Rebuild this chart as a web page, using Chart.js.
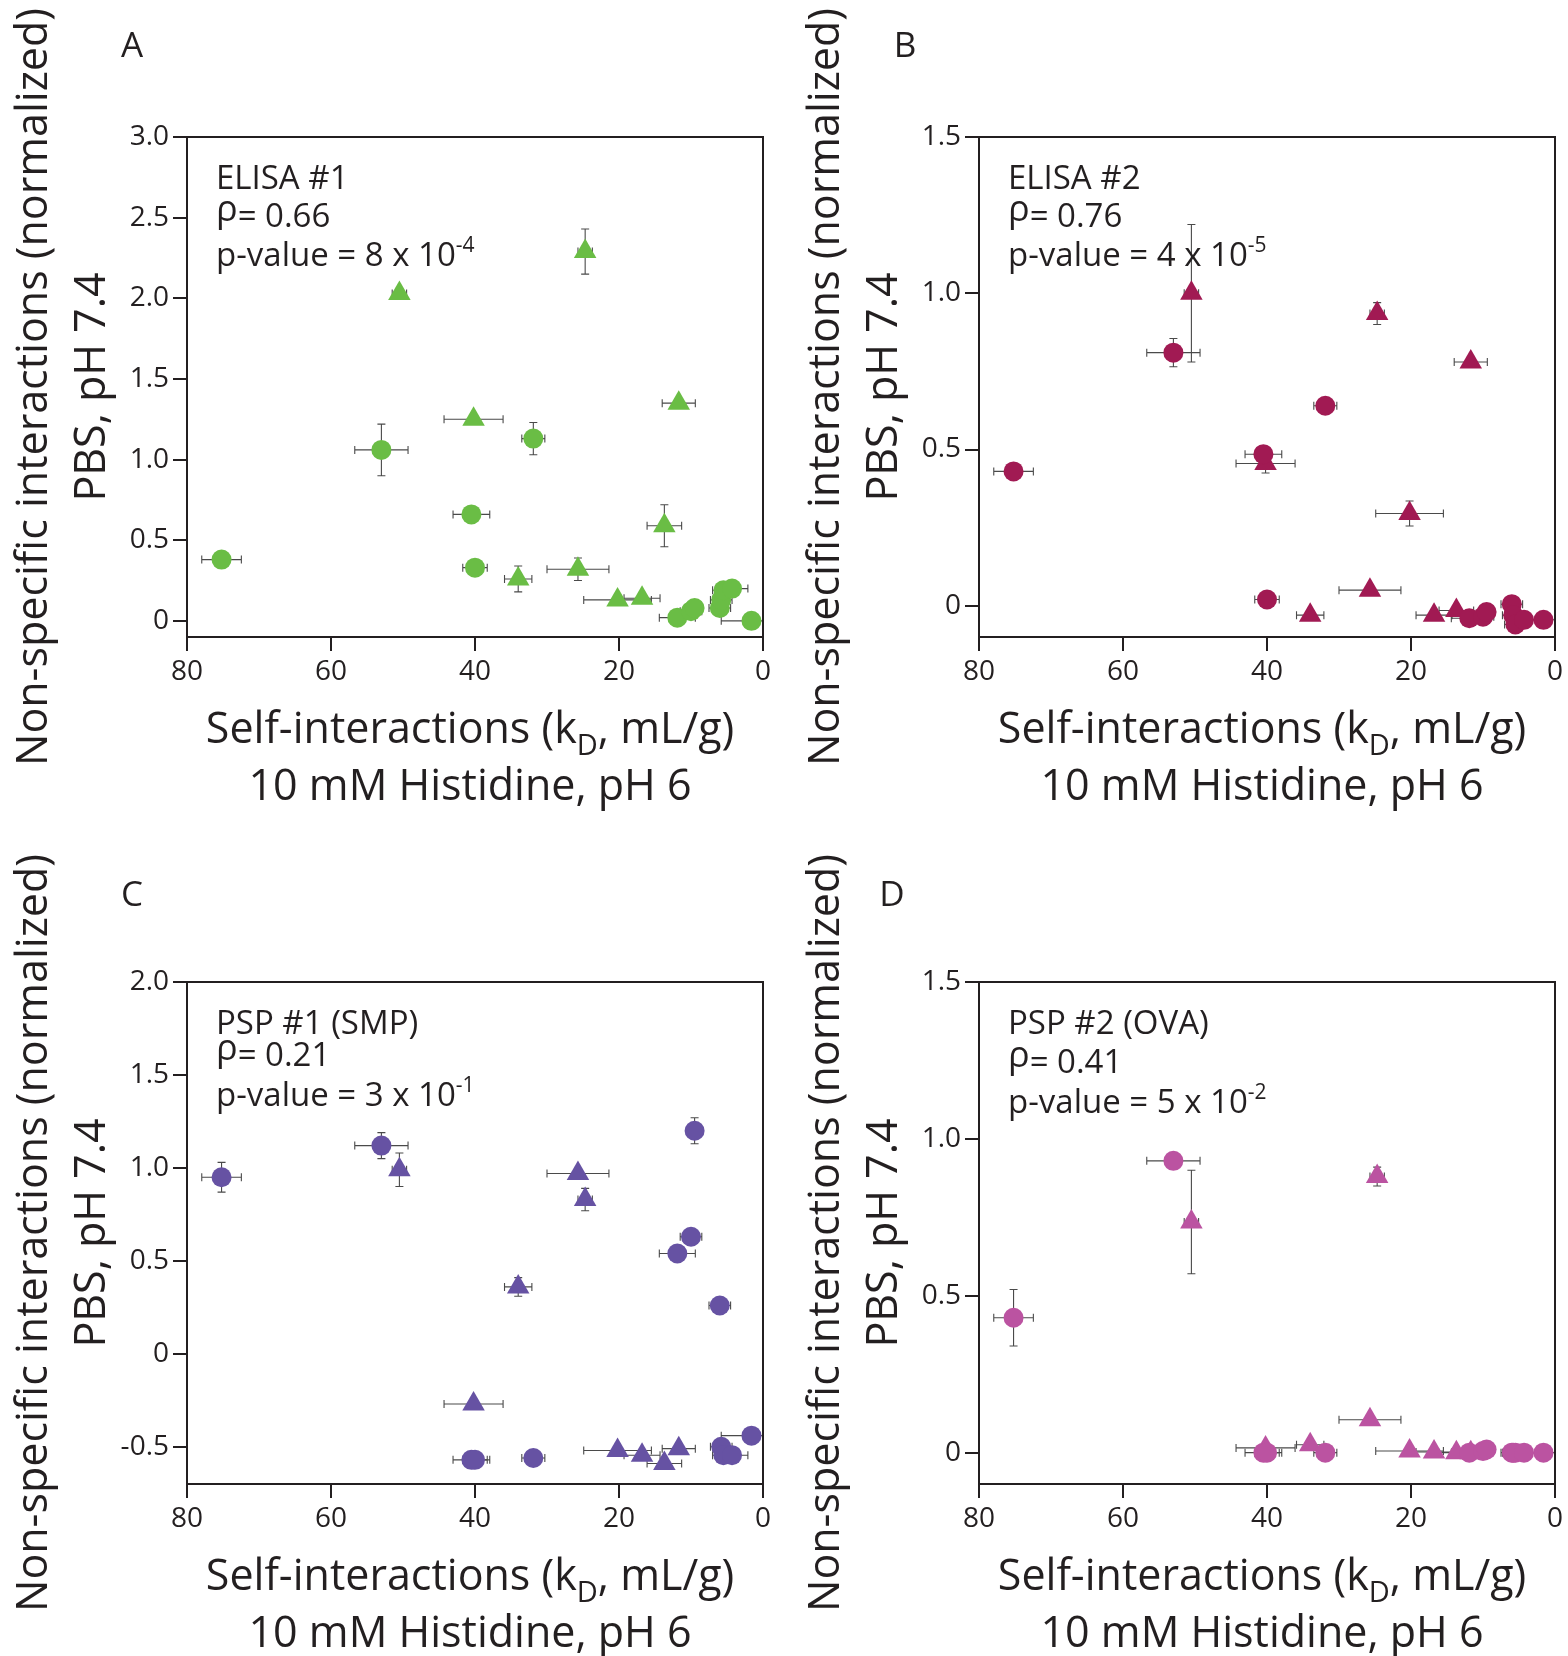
<!DOCTYPE html>
<html>
<head>
<meta charset="utf-8">
<script src="https://cdn.jsdelivr.net/npm/chart.js@4.4.0/dist/chart.umd.min.js"></script>
<style>
  body { margin: 0; background: #fff; }
  #wrap { position: relative; width: 1568px; height: 1656px; }
  .panel { position: absolute; width: 784px; height: 828px; }
</style>
</head>
<body>
<div id="wrap">
  <div class="panel" style="left:0;top:0"><canvas id="chartA" width="784" height="828"></canvas></div>
  <div class="panel" style="left:784px;top:0"><canvas id="chartB" width="784" height="828"></canvas></div>
  <div class="panel" style="left:0;top:828px"><canvas id="chartC" width="784" height="828"></canvas></div>
  <div class="panel" style="left:784px;top:828px"><canvas id="chartD" width="784" height="828"></canvas></div>
</div>
<script>
// kD (self-interactions) is the same set of antibodies in every panel
const circleKd      = [75.2, 53.0, 40.5, 40.0, 31.9, 11.9, 10.0, 9.5, 6.0, 5.8, 5.5, 4.3, 1.6];
const circleKdErr   = [2.75, 3.7, 2.55, 1.7, 1.6, 2.5, 1.5, 1.0, 1.5, 1.5, 1.5, 2.2, 4.2];
const triangleKd    = [50.5, 24.7, 11.7, 40.2, 13.7, 25.7, 34.0, 20.2, 16.8];
const triangleKdErr = [1.0, 1.0, 2.3, 4.1, 2.4, 4.3, 1.9, 4.7, 2.5];

// non-specific interactions, one pair of arrays per assay
const elisa1Circles    = [0.38, 1.06, 0.66, 0.33, 1.13, 0.02, 0.06, 0.08, 0.08, 0.13, 0.19, 0.20, 0.0];
const elisa1CirclesErr = [0, 0.16, 0, 0, 0.10, 0, 0, 0, 0, 0, 0, 0, 0];
const elisa1Tri        = [2.03, 2.29, 1.35, 1.25, 0.59, 0.32, 0.26, 0.13, 0.14];
const elisa1TriErr     = [0, 0.14, 0, 0, 0.13, 0.07, 0.08, 0, 0];

const elisa2Circles    = [0.43, 0.81, 0.485, 0.02, 0.64, -0.04, -0.035, -0.02, 0.005, -0.03, -0.06, -0.045, -0.045];
const elisa2CirclesErr = [0, 0.045, 0, 0, 0, 0, 0, 0, 0, 0, 0, 0, 0];
const elisa2Tri        = [1.00, 0.935, 0.78, 0.455, -0.015, 0.05, -0.03, 0.295, -0.03];
const elisa2TriErr     = [0.22, 0.035, 0, 0.03, 0, 0, 0, 0.04, 0];

const smpCircles    = [0.95, 1.12, -0.57, -0.57, -0.56, 0.54, 0.63, 1.20, 0.26, -0.50, -0.545, -0.545, -0.44];
const smpCirclesErr = [0.08, 0.07, 0, 0, 0, 0, 0, 0.07, 0, 0, 0, 0, 0];
const smpTri        = [0.99, 0.83, -0.51, -0.27, -0.59, 0.97, 0.36, -0.52, -0.545];
const smpTriErr     = [0.09, 0.06, 0, 0, 0, 0, 0.05, 0, 0];

const ovaCircles    = [0.43, 0.93, 0, 0, 0, 0, 0.005, 0.01, 0, 0, 0, 0, 0];
const ovaCirclesErr = [0.09, 0, 0, 0, 0, 0, 0, 0, 0, 0, 0, 0, 0];
const ovaTri        = [0.735, 0.88, 0, 0.015, 0, 0.105, 0.025, 0.005, 0.002];
const ovaTriErr     = [0.165, 0.03, 0, 0, 0, 0, 0, 0, 0];

const xTicks  = [0, 20, 40, 60, 80];
const yTicksA = [0, 0.5, 1.0, 1.5, 2.0, 2.5, 3.0];
const yTicksB = [0, 0.5, 1.0, 1.5];
const yTicksC = [-0.5, 0, 0.5, 1.0, 1.5, 2.0];
const yTicksD = [0, 0.5, 1.0, 1.5];

const FONT = '"Open Sans", "Noto Sans", sans-serif';
const INK = '#231f20';

function toPoints(xs, ys) {
  return xs.map((x, i) => ({x: x, y: ys[i]}));
}

// draw text made of runs [text, size, dy], dy shifts sub/superscripts
function drawRuns(ctx, runs, x, y, align) {
  let total = 0;
  runs.forEach(r => { ctx.font = r[1] + 'px ' + FONT; total += ctx.measureText(r[0]).width; });
  let cx = align == 'center' ? x - total / 2 : x;
  ctx.textAlign = 'left';
  ctx.textBaseline = 'alphabetic';
  runs.forEach(r => {
    ctx.font = r[1] + 'px ' + FONT;
    ctx.fillText(r[0], cx, y + (r[2] || 0));
    cx += ctx.measureText(r[0]).width;
  });
}

const errorBars = {
  id: 'errorBars',
  beforeDatasetsDraw(chart) {
    const ctx = chart.ctx, a = chart.chartArea;
    const xs = chart.scales.x, ys = chart.scales.y;
    ctx.save();
    ctx.beginPath();
    ctx.rect(a.left, a.top, a.right - a.left, a.bottom - a.top);
    ctx.clip();
    ctx.strokeStyle = '#4a4a4a';
    ctx.lineWidth = 1.1;
    chart.data.datasets.forEach(ds => {
      ds.data.forEach((p, i) => {
        const px = xs.getPixelForValue(p.x), py = ys.getPixelForValue(p.y);
        const ex = ds.xErr[i], ey = ds.yErr[i];
        ctx.beginPath();
        if (ex > 0) {
          const l = xs.getPixelForValue(p.x - ex), r = xs.getPixelForValue(p.x + ex);
          ctx.moveTo(l, py); ctx.lineTo(r, py);
          ctx.moveTo(l, py - 4); ctx.lineTo(l, py + 4);
          ctx.moveTo(r, py - 4); ctx.lineTo(r, py + 4);
        }
        if (ey > 0) {
          const t = ys.getPixelForValue(p.y + ey), b = ys.getPixelForValue(p.y - ey);
          ctx.moveTo(px, t); ctx.lineTo(px, b);
          ctx.moveTo(px - 4, t); ctx.lineTo(px + 4, t);
          ctx.moveTo(px - 4, b); ctx.lineTo(px + 4, b);
        }
        ctx.stroke();
      });
    });
    ctx.restore();
  }
};

function makePanel(id, p) {
  const textPlugin = {
    id: 'panelText',
    afterDraw(chart) {
      const ctx = chart.ctx, a = chart.chartArea;
      ctx.save();
      // box round the plot
      ctx.strokeStyle = INK;
      ctx.lineWidth = 2;
      ctx.strokeRect(a.left, a.top, a.right - a.left, a.bottom - a.top);
      ctx.fillStyle = INK;
      // panel letter
      ctx.font = '35px ' + FONT;
      ctx.textAlign = 'center';
      ctx.textBaseline = 'middle';
      ctx.fillText(p.letter, p.letterPos[0], p.letterPos[1]);
      // stats box text
      const lx = a.left + 29;
      drawRuns(ctx, [[p.assay, 33]], lx, a.top + p.lineY[0] + 12);
      drawRuns(ctx, [['ρ', 36, -6], ['= ' + p.rho, 33]], lx, a.top + p.lineY[1] + 12);
      drawRuns(ctx, [['p-value = ' + p.pval + ' x 10', 33], [p.pexp, 21, -14]], lx, a.top + p.lineY[2] + 12);
      // x title
      const cx = (a.left + a.right) / 2 - 5;
      drawRuns(ctx, [['Self-interactions (k', 43], ['D', 29, 12], [', mL/g)', 43]], cx, a.bottom + 106, 'center');
      drawRuns(ctx, [['10 mM Histidine, pH 6', 43]], cx, a.bottom + 163, 'center');
      // y title
      const cy = (a.top + a.bottom) / 2;
      ctx.translate(a.left - 152, cy);
      ctx.rotate(-Math.PI / 2);
      ctx.font = '43px ' + FONT;
      ctx.textAlign = 'center';
      ctx.textBaseline = 'middle';
      ctx.fillText('Non-specific interactions (normalized)', 0, 0);
      ctx.fillText('PBS, pH 7.4', 0, 58);
      ctx.restore();
    }
  };

  new Chart(document.getElementById(id), {
    type: 'scatter',
    data: {
      datasets: [
        {
          data: toPoints(circleKd, p.circles),
          xErr: circleKdErr, yErr: p.circlesErr,
          pointStyle: 'circle', pointRadius: 10, pointHoverRadius: 10,
          backgroundColor: p.color, borderWidth: 0
        },
        {
          data: toPoints(triangleKd, p.tri),
          xErr: triangleKdErr, yErr: p.triErr,
          pointStyle: 'triangle', pointRadius: 13, pointHoverRadius: 13,
          backgroundColor: p.color, borderWidth: 0
        }
      ]
    },
    options: {
      responsive: false,
      animation: false,
      events: [],
      clip: false,
      layout: { padding: { left: 0, top: p.top, right: p.right, bottom: 0 } },
      plugins: { legend: { display: false }, tooltip: { enabled: false } },
      scales: {
        x: {
          type: 'linear', reverse: true, min: 0, max: 80,
          afterBuildTicks: s => { s.ticks = xTicks.map(v => ({value: v})); },
          afterFit: s => { s.height = p.xH; },
          border: { display: false },
          grid: { drawOnChartArea: false, drawTicks: true, tickLength: 14, color: INK, lineWidth: 2 },
          ticks: { color: INK, font: { family: FONT, size: 28 }, padding: 4, maxRotation: 0 }
        },
        y: {
          type: 'linear', min: p.yMin, max: p.yMax,
          afterBuildTicks: s => { s.ticks = p.yTicks.map(v => ({value: v})); },
          afterFit: s => { s.width = p.yW; },
          border: { display: false },
          grid: { drawOnChartArea: false, drawTicks: true, tickLength: 14, color: INK, lineWidth: 2 },
          ticks: {
            color: INK, font: { family: FONT, size: 28 }, padding: 4,
            callback: v => v == 0 ? '0' : v.toFixed(1)
          }
        }
      }
    },
    plugins: [errorBars, textPlugin]
  });
}

makePanel('chartA', {
  letter: 'A', letterPos: [132, 47], top: 137, right: 21, yW: 187, xH: 191,
  yMin: -0.1, yMax: 3.0, yTicks: yTicksA, color: '#6abd45',
  circles: elisa1Circles, circlesErr: elisa1CirclesErr, tri: elisa1Tri, triErr: elisa1TriErr,
  assay: 'ELISA #1', rho: '0.66', pval: '8', pexp: '-4', lineY: [40, 78, 117]
});
makePanel('chartB', {
  letter: 'B', letterPos: [905 - 784, 47], top: 137, right: 13, yW: 195, xH: 191,
  yMin: -0.1, yMax: 1.5, yTicks: yTicksB, color: '#a11a53',
  circles: elisa2Circles, circlesErr: elisa2CirclesErr, tri: elisa2Tri, triErr: elisa2TriErr,
  assay: 'ELISA #2', rho: '0.76', pval: '4', pexp: '-5', lineY: [40, 78, 117]
});
makePanel('chartC', {
  letter: 'C', letterPos: [132, 68], top: 154, right: 21, yW: 187, xH: 172,
  yMin: -0.7, yMax: 2.0, yTicks: yTicksC, color: '#6652a3',
  circles: smpCircles, circlesErr: smpCirclesErr, tri: smpTri, triErr: smpTriErr,
  assay: 'PSP #1 (SMP)', rho: '0.21', pval: '3', pexp: '-1', lineY: [40, 72, 112]
});
makePanel('chartD', {
  letter: 'D', letterPos: [892 - 784, 68], top: 154, right: 13, yW: 195, xH: 172,
  yMin: -0.1, yMax: 1.5, yTicks: yTicksD, color: '#bb53a1',
  circles: ovaCircles, circlesErr: ovaCirclesErr, tri: ovaTri, triErr: ovaTriErr,
  assay: 'PSP #2 (OVA)', rho: '0.41', pval: '5', pexp: '-2', lineY: [40, 79, 119]
});
</script>
</body>
</html>
